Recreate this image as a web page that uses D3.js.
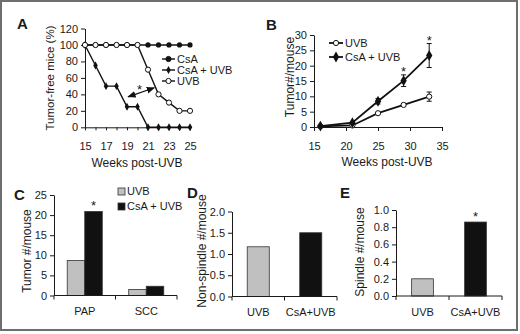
<!DOCTYPE html>
<html>
<head>
<meta charset="utf-8">
<script src="https://cdn.jsdelivr.net/npm/d3@7"></script>
<style>
  body { margin: 0; background: #fff; }
  text { font-family: "Liberation Sans", Arial, sans-serif; fill: #1a1a1a; }
</style>
</head>
<body>
<svg id="fig" width="520" height="334"></svg>
<script>
// ---- Panel A: tumor-free mice (%)
var weeksA = [15, 16, 17, 18, 19, 20, 21, 22, 23, 24, 25];
var csaA = [100, 100, 100, 100, 100, 100, 100, 100, 100, 100, 100];
var csaUvbA = [100, 75, 50, 50, 25, 25, 0, 0, 0, 0, 0];
var uvbA = [100, 100, 100, 100, 100, 100, 70, 40, 30, 20, 20];
var arrowA = [[19.1, 37], [21.6, 48]];
var starA = [20.2, 50];
var yTicksA = [0, 20, 40, 60, 80, 100, 120];

// ---- Panel B: tumor # / mouse
var weeksB = [16, 21, 25, 29, 33];
var uvbB = [0.2, 0.5, 4.5, 7.2, 9.9];
var uvbErrB = [0.1, 0.2, 0.3, 0.5, 1.5];
var csaUvbB = [0.3, 1.4, 8.4, 15.1, 23.3];
var csaUvbErrB = [0.1, 0.2, 0.9, 1.9, 3.9];
var starWeeksB = [29, 33];
var xTicksB = [15, 20, 25, 30, 35];
var yTicksB = [0, 5, 10, 15, 20, 25, 30];

// ---- Panel C: tumor type
var tumorTypes = ["PAP", "SCC"];
var uvbC = [8.7, 1.5];
var csaUvbC = [20.9, 2.3];
var yTicksC = [0, 5, 10, 15, 20, 25];

// ---- Panels D, E
var groupsDE = ["UVB", "CsA+UVB"];
var nonSpindle = [1.17, 1.5];
var spindle = [0.2, 0.86];
var yTicksD = [0, 0.5, 1, 1.5, 2];
var yTicksE = [0, 0.2, 0.4, 0.6, 0.8, 1];

var grey = "#c0c0c0", black = "#111";

var svg = d3.select("#fig");

svg.append("rect").attr("x", 1).attr("y", 1).attr("width", 516).attr("height", 329)
   .attr("fill", "none").attr("stroke", "#6e6e6e").attr("stroke-width", 2);

function letter(t, x, y) {
    svg.append("text").attr("x", x).attr("y", y).text(t)
       .style("font-size", "15px").style("font-weight", "bold");
}

function styleAxis(g) {
    g.selectAll("path, line").attr("stroke", "#1a1a1a");
    g.selectAll("text").style("font-size", "11px").attr("fill", "#1a1a1a");
}

function yTitle(t, x, y, size) {
    svg.append("text").attr("transform", `translate(${x},${y}) rotate(-90)`)
       .attr("text-anchor", "middle").attr("dy", "0.35em")
       .style("font-size", size + "px").text(t);
}

function star(x, y) {
    svg.append("text").attr("x", x).attr("y", y).attr("text-anchor", "middle")
       .style("font-size", "13px").text("*");
}

// ===================== A =====================
letter("A", 17, 29);
var xA = d3.scaleLinear().domain([15, 25]).range([85, 190]);
var yA = d3.scaleLinear().domain([0, 120]).range([127.3, 28.5]);

svg.append("g").attr("transform", "translate(0,127.3)")
   .call(d3.axisBottom(xA).tickValues(weeksA).tickFormat(d => d % 2 ? d : "")
         .tickSize(3).tickSizeOuter(0).tickPadding(12))
   .call(styleAxis);
svg.append("g").attr("transform", "translate(85,0)")
   .call(d3.axisLeft(yA).tickValues(yTicksA).tickSize(4).tickSizeOuter(0).tickPadding(3))
   .call(styleAxis);

var lineA = d3.line().x((d, i) => xA(weeksA[i])).y(d => yA(d));
[csaA, csaUvbA, uvbA].forEach(s => {
    svg.append("path").attr("d", lineA(s)).attr("fill", "none")
       .attr("stroke", black).attr("stroke-width", 1.4);
});
svg.append("g").selectAll("circle").data(csaA).join("circle")
   .attr("cx", (d, i) => xA(weeksA[i])).attr("cy", d => yA(d)).attr("r", 2.6).attr("fill", black);
svg.append("g").selectAll("path").data(csaUvbA).join("path")
   .attr("d", d3.symbol(d3.symbolDiamond, 18))
   .attr("transform", (d, i) => `translate(${xA(weeksA[i])},${yA(d)})`).attr("fill", black);
svg.append("g").selectAll("circle").data(uvbA).join("circle")
   .filter((d, i) => !(d === 100 && i > 0 && csaA[i] === 100) || i <= 5)
   .attr("cx", (d, i) => xA(weeksA[i])).attr("cy", d => yA(d)).attr("r", 2.6)
   .attr("fill", "#fff").attr("stroke", black).attr("stroke-width", 1);

// double-headed arrow
svg.append("defs").append("marker").attr("id", "ah").attr("viewBox", "0 0 10 10")
   .attr("refX", 9).attr("refY", 5).attr("markerWidth", 7).attr("markerHeight", 7)
   .attr("orient", "auto-start-reverse")
   .append("path").attr("d", "M0,1L10,5L0,9Z").attr("fill", black);
svg.append("line")
   .attr("x1", xA(arrowA[0][0])).attr("y1", yA(arrowA[0][1]))
   .attr("x2", xA(arrowA[1][0])).attr("y2", yA(arrowA[1][1]))
   .attr("stroke", black).attr("stroke-width", 1.2)
   .attr("marker-start", "url(#ah)").attr("marker-end", "url(#ah)");
star(xA(starA[0]), yA(starA[1]) + 8);

// legend A
var legA = [["CsA", "circle"], ["CsA + UVB", "diamond"], ["UVB", "open"]];
legA.forEach((d, i) => {
    var y = 59 + i * 11;
    svg.append("line").attr("x1", 162).attr("x2", 175).attr("y1", y).attr("y2", y)
       .attr("stroke", black).attr("stroke-width", 1.4);
    if (d[1] === "diamond")
        svg.append("path").attr("d", d3.symbol(d3.symbolDiamond, 18))
           .attr("transform", `translate(168.5,${y})`).attr("fill", black);
    else
        svg.append("circle").attr("cx", 168.5).attr("cy", y).attr("r", 2.6)
           .attr("fill", d[1] === "open" ? "#fff" : black).attr("stroke", black);
    svg.append("text").attr("x", 177).attr("y", y).attr("dy", "0.35em")
       .style("font-size", "11px").text(d[0]);
});

svg.append("text").attr("x", 137).attr("y", 167).attr("text-anchor", "middle")
   .style("font-size", "12px").text("Weeks post-UVB");
yTitle("Tumor-free mice (%)", 50, 78, 11.5);

// ===================== B =====================
letter("B", 266, 30);
var xB = d3.scaleLinear().domain([15, 35]).range([314, 442]);
var yB = d3.scaleLinear().domain([0, 30]).range([127, 35]);

svg.append("g").attr("transform", "translate(0,127)")
   .call(d3.axisBottom(xB).tickValues(xTicksB).tickSize(4).tickSizeOuter(0).tickPadding(11))
   .call(styleAxis);
svg.append("g").attr("transform", "translate(314,0)")
   .call(d3.axisLeft(yB).tickValues(yTicksB).tickSize(4).tickSizeOuter(0).tickPadding(3))
   .call(styleAxis);

function seriesB(vals, errs, filled) {
    var ln = d3.line().x((d, i) => xB(weeksB[i])).y(d => yB(d));
    svg.append("path").attr("d", ln(vals)).attr("fill", "none")
       .attr("stroke", black).attr("stroke-width", 1.8);
    var g = svg.append("g");
    vals.forEach((v, i) => {
        var x = xB(weeksB[i]);
        g.append("line").attr("x1", x).attr("x2", x)
         .attr("y1", yB(v - errs[i])).attr("y2", yB(v + errs[i])).attr("stroke", black);
        [v - errs[i], v + errs[i]].forEach(e => {
            g.append("line").attr("x1", x - 2.5).attr("x2", x + 2.5)
             .attr("y1", yB(e)).attr("y2", yB(e)).attr("stroke", black);
        });
        if (filled)
            g.append("path").attr("d", d3.symbol(d3.symbolDiamond, 34))
             .attr("transform", `translate(${x},${yB(v)})`).attr("fill", black);
        else
            g.append("circle").attr("cx", x).attr("cy", yB(v)).attr("r", 2.6)
             .attr("fill", "#fff").attr("stroke", black);
    });
}
seriesB(uvbB, uvbErrB, false);
seriesB(csaUvbB, csaUvbErrB, true);
starWeeksB.forEach(w => {
    var i = weeksB.indexOf(w);
    star(xB(w), yB(csaUvbB[i] + csaUvbErrB[i]) + 1);
});

var legB = [["UVB", false], ["CsA + UVB", true]];
legB.forEach((d, i) => {
    var y = 43 + i * 14;
    svg.append("line").attr("x1", 329).attr("x2", 343).attr("y1", y).attr("y2", y)
       .attr("stroke", black).attr("stroke-width", 1.8);
    if (d[1])
        svg.append("path").attr("d", d3.symbol(d3.symbolDiamond, 34))
           .attr("transform", `translate(336,${y})`).attr("fill", black);
    else
        svg.append("circle").attr("cx", 336).attr("cy", y).attr("r", 2.6)
           .attr("fill", "#fff").attr("stroke", black);
    svg.append("text").attr("x", 345).attr("y", y).attr("dy", "0.35em")
       .style("font-size", "11px").text(d[0]);
});

svg.append("text").attr("x", 387).attr("y", 166).attr("text-anchor", "middle")
   .style("font-size", "12px").text("Weeks post-UVB");
yTitle("Tumor#/mouse", 290, 77, 12);

// ===================== bar panels =====================
function catAxis(x, y0, x0, x1, w) {
    // axis line with ticks at band boundaries
    var g = svg.append("g");
    g.append("line").attr("x1", x0).attr("x2", x1).attr("y1", y0).attr("y2", y0)
     .attr("stroke", "#1a1a1a");
    var bounds = [x0, (x0 + x1) / 2, x1];
    bounds.forEach(b => g.append("line").attr("x1", b).attr("x2", b)
        .attr("y1", y0).attr("y2", y0 + 4).attr("stroke", "#1a1a1a"));
    x.domain().forEach(c => g.append("text")
        .attr("x", x(c) + w / 2).attr("y", y0 + 12).attr("dy", "0.71em")
        .attr("text-anchor", "middle").style("font-size", "11px").text(c));
}

// ---- C
letter("C", 14, 200);
var xC = d3.scaleBand().domain(tumorTypes).range([54, 177]).paddingInner(0.43).paddingOuter(0.215);
var xCsub = d3.scaleBand().domain([0, 1]).range([0, xC.bandwidth()]);
var yC = d3.scaleLinear().domain([0, 25]).range([295.5, 195]);
svg.append("g").attr("transform", "translate(54,0)")
   .call(d3.axisLeft(yC).tickValues(yTicksC).tickSize(4).tickSizeOuter(0).tickPadding(3))
   .call(styleAxis);
[uvbC, csaUvbC].forEach((s, k) => {
    svg.append("g").selectAll("rect").data(s).join("rect")
       .attr("x", (d, i) => xC(tumorTypes[i]) + xCsub(k)).attr("width", xCsub.bandwidth())
       .attr("y", d => yC(d)).attr("height", d => yC(0) - yC(d))
       .attr("fill", k ? black : grey).attr("stroke", "#333").attr("stroke-width", 0.8);
});
catAxis(xC, 295.5, 54, 177, xC.bandwidth());
star(xC("PAP") + xCsub(1) + xCsub.bandwidth() / 2, yC(csaUvbC[0]) - 1);
[["UVB", grey], ["CsA + UVB", black]].forEach((d, i) => {
    var y = 191.5 + i * 15;
    svg.append("rect").attr("x", 118).attr("y", y - 3.5).attr("width", 7).attr("height", 7)
       .attr("fill", d[1]).attr("stroke", "#333").attr("stroke-width", 0.8);
    svg.append("text").attr("x", 127).attr("y", y).attr("dy", "0.35em")
       .style("font-size", "11px").text(d[0]);
});
yTitle("Tumor #/mouse", 27, 251, 12);

// ---- D
letter("D", 187, 198);
var xD = d3.scaleBand().domain(groupsDE).range([232, 337]).paddingInner(0.58).paddingOuter(0.29);
var yD = d3.scaleLinear().domain([0, 2]).range([296.5, 211.5]);
svg.append("g").attr("transform", "translate(232,0)")
   .call(d3.axisLeft(yD).tickValues(yTicksD).tickSize(4).tickSizeOuter(0).tickPadding(3))
   .call(styleAxis);
svg.append("g").selectAll("rect").data(nonSpindle).join("rect")
   .attr("x", (d, i) => xD(groupsDE[i])).attr("width", xD.bandwidth())
   .attr("y", d => yD(d)).attr("height", d => yD(0) - yD(d))
   .attr("fill", (d, i) => i ? black : grey).attr("stroke", "#333").attr("stroke-width", 0.8);
catAxis(xD, 296.5, 232, 337, xD.bandwidth());
yTitle("Non-spindle #/mouse", 202, 251, 12);

// ---- E
letter("E", 340, 198);
var xE = d3.scaleBand().domain(groupsDE).range([396, 502]).paddingInner(0.59).paddingOuter(0.295);
var yE = d3.scaleLinear().domain([0, 1]).range([296, 210]);
svg.append("g").attr("transform", "translate(396,0)")
   .call(d3.axisLeft(yE).tickValues(yTicksE).tickSize(4).tickSizeOuter(0).tickPadding(3))
   .call(styleAxis);
svg.append("g").selectAll("rect").data(spindle).join("rect")
   .attr("x", (d, i) => xE(groupsDE[i])).attr("width", xE.bandwidth())
   .attr("y", d => yE(d)).attr("height", d => yE(0) - yE(d))
   .attr("fill", (d, i) => i ? black : grey).attr("stroke", "#333").attr("stroke-width", 0.8);
catAxis(xE, 296, 396, 502, xE.bandwidth());
star(xE("CsA+UVB") + xE.bandwidth() / 2, yE(spindle[1]) - 1);
yTitle("Spindle #/mouse", 360, 252, 12);
</script>
</body>
</html>
